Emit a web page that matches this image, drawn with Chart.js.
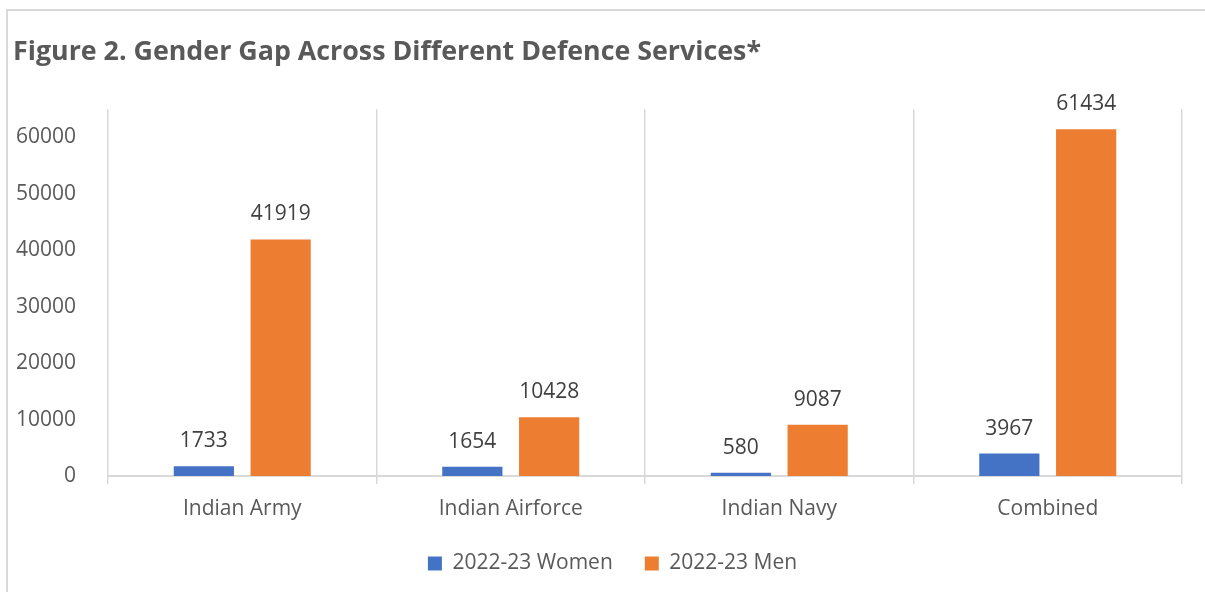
<!DOCTYPE html>
<html>
<head>
<meta charset="utf-8">
<script src="https://cdn.jsdelivr.net/npm/chart.js@4/dist/chart.umd.min.js"></script>
<style>
  html, body { margin: 0; padding: 0; background: #ffffff; }
  #wrap { position: relative; width: 1205px; height: 592px; overflow: hidden; }
  #frame { position: absolute; left: 6px; top: 9px; width: 1300px; height: 700px; border: 2px solid #d9d9d9; box-sizing: border-box; }
  #c { position: absolute; left: 0; top: 0; }
</style>
</head>
<body>
<div id="wrap">
  <div id="frame"></div>
  <canvas id="c" width="1205" height="592"></canvas>
</div>
<script>
const titleText = 'Figure 2. Gender Gap Across Different Defence Services*';
const categories = ['Indian Army', 'Indian Airforce', 'Indian Navy', 'Combined'];
const womenLabel = '2022-23 Women';
const menLabel = '2022-23 Men';
const womenValues = [1733, 1654, 580, 3967];
const menValues = [41919, 10428, 9087, 61434];
const yTicks = [0, 10000, 20000, 30000, 40000, 50000, 60000];

const FONT = "'Open Sans', 'Noto Sans', sans-serif";
const TXT = '#595959';

const valueLabels = {
  id: 'valueLabels',
  afterDatasetsDraw(chart) {
    const ctx = chart.ctx;
    ctx.save();
    ctx.font = '21px ' + FONT;
    ctx.fillStyle = '#404040';
    ctx.textAlign = 'center';
    ctx.textBaseline = 'middle';
    chart.data.datasets.forEach((ds, di) => {
      const meta = chart.getDatasetMeta(di);
      meta.data.forEach((el, i) => {
        ctx.fillText(String(ds.data[i]), el.x, el.y - 25);
      });
    });
    ctx.restore();
  }
};

const legendShift = {
  id: 'legendShift',
  beforeDraw(chart) {
    if (chart.legend) { chart.legend.left = 43; }
  }
};

new Chart(document.getElementById('c'), {
  type: 'bar',
  data: {
    labels: categories,
    datasets: [
      { label: womenLabel, data: womenValues, backgroundColor: '#4472C4', borderWidth: 0 },
      { label: menLabel, data: menValues, backgroundColor: '#ED7D31', borderWidth: 0 }
    ]
  },
  options: {
    responsive: false,
    animation: false,
    events: [],
    categoryPercentage: 0.572,
    barPercentage: 0.784,
    layout: { padding: { left: 13, right: 23, top: 0, bottom: 8 } },
    plugins: {
      title: {
        display: true,
        text: titleText,
        align: 'start',
        color: TXT,
        font: { family: FONT, size: 26.8, weight: 'bold' },
        padding: { top: 36, bottom: 41 }
      },
      legend: {
        display: true,
        position: 'bottom',
        labels: {
          boxWidth: 14,
          boxHeight: 14,
          padding: 32,
          color: TXT,
          font: { family: FONT, size: 21 }
        }
      },
      tooltip: { enabled: false }
    },
    scales: {
      x: {
        offset: true,
        grid: { display: true, offset: true, color: '#d9d9d9', lineWidth: 1.5, tickLength: 8 },
        border: { display: true, color: '#d9d9d9', width: 2 },
        ticks: { color: TXT, font: { family: FONT, size: 21 }, padding: 12 },
        afterFit(scale) { scale.height = 45; }
      },
      y: {
        min: 0,
        max: 65000,
        grid: { display: false },
        border: { display: false },
        ticks: {
          stepSize: 10000,
          color: TXT,
          font: { family: FONT, size: 21 },
          padding: 24,
          callback: (v) => String(v)
        },
        afterBuildTicks(scale) {
          scale.ticks = yTicks.map(v => ({ value: v }));
        },
        afterFit(scale) { scale.width = 95; }
      }
    }
  },
  plugins: [valueLabels, legendShift]
});
</script>
</body>
</html>
